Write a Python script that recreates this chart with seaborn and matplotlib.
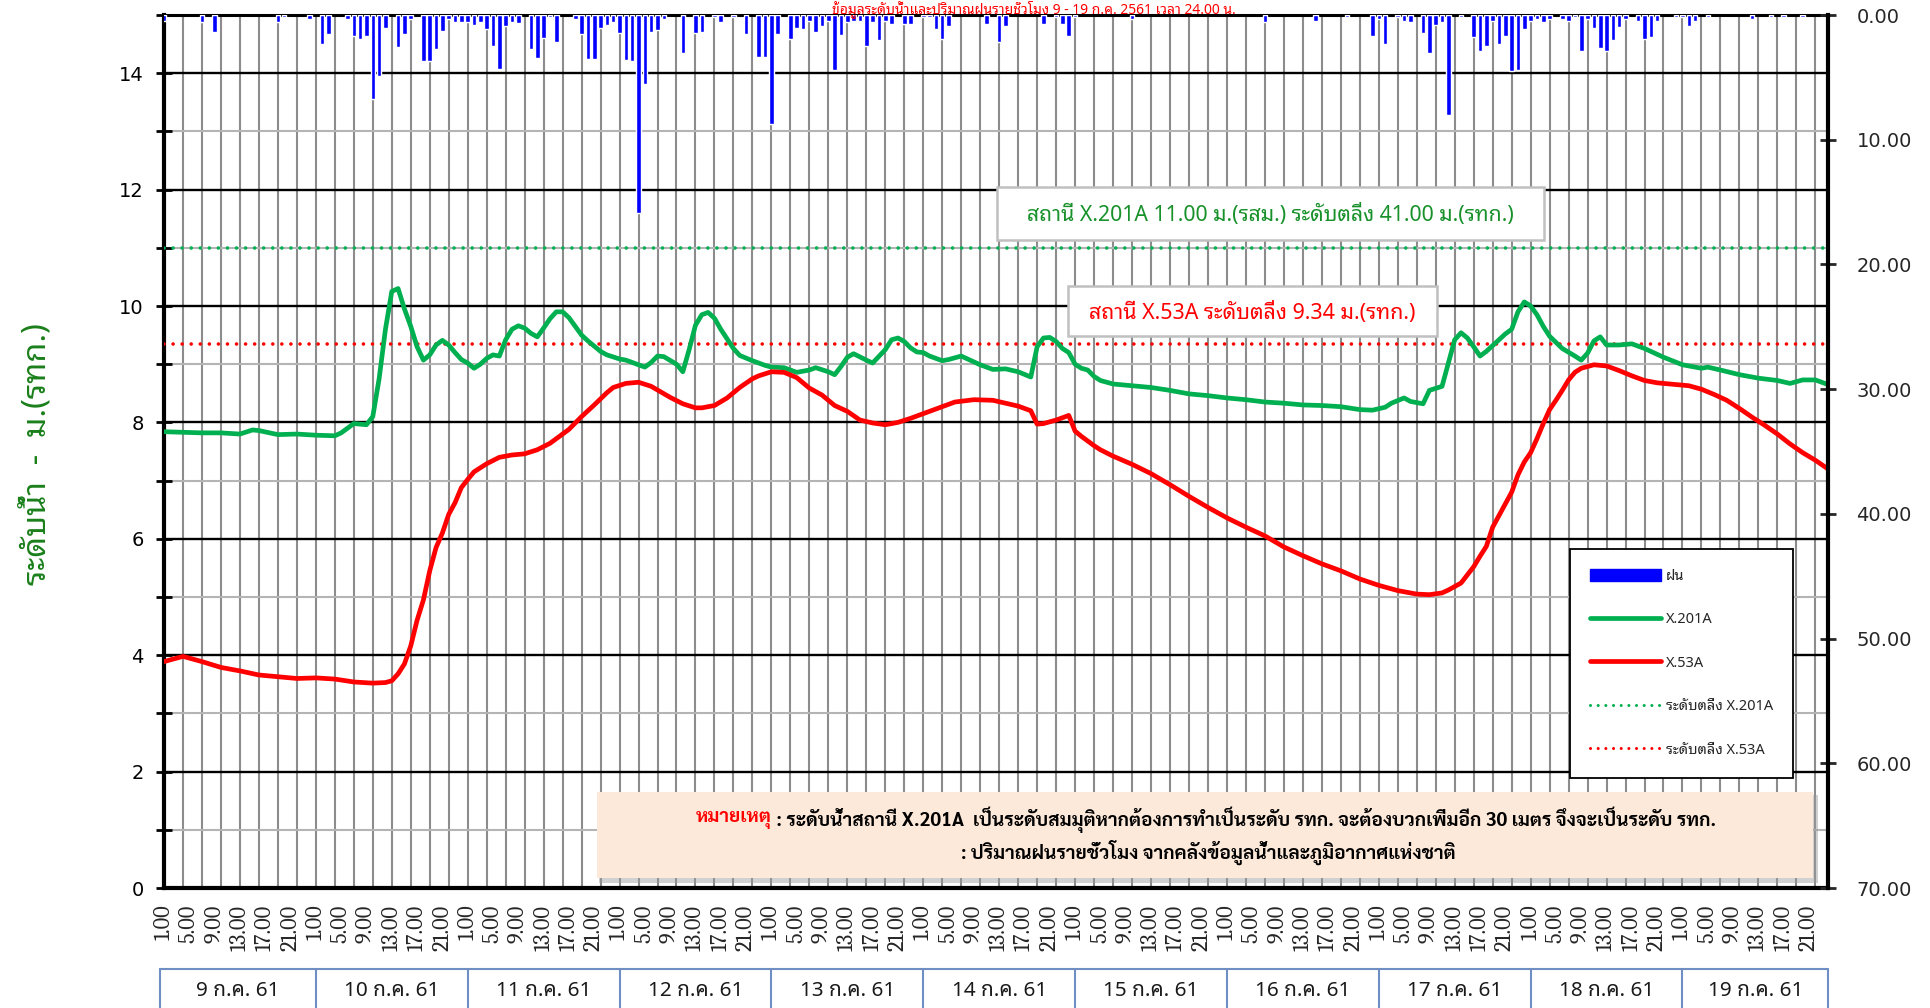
import numpy as np
import matplotlib
matplotlib.use("Agg")
import matplotlib.pyplot as plt
import seaborn as sns
from matplotlib import font_manager
from matplotlib.patches import Rectangle, Patch
from matplotlib.lines import Line2D
from matplotlib.ticker import MultipleLocator, FixedLocator, FormatStrFormatter
from matplotlib.transforms import blended_transform_factory

# ---------------- data ----------------
day_labels = ["9 ก.ค. 61", "10 ก.ค. 61", "11 ก.ค. 61", "12 ก.ค. 61", "13 ก.ค. 61", "14 ก.ค. 61",
              "15 ก.ค. 61", "16 ก.ค. 61", "17 ก.ค. 61", "18 ก.ค. 61", "19 ก.ค. 61"]
hour_labels = ["1.00", "5.00", "9.00", "13.00", "17.00", "21.00"]

x201a_hours = [0, 3, 6, 9, 12, 14, 15, 18, 21, 24, 27, 28, 30, 32, 33, 34, 35, 36, 37, 38, 39, 40, 41, 42, 43,
               44, 45, 46, 47, 48, 49, 50, 51, 52, 53, 54, 55, 56, 57, 58, 59, 60, 61, 62, 63, 64, 66, 67, 69,
               70, 72, 73, 75, 76, 77, 78, 79, 81, 82, 83, 84, 85, 86, 87, 88, 90, 91, 93, 95, 96, 98, 99, 100,
               102, 103, 105, 106, 107, 108, 109, 111, 112, 114, 115, 116, 117, 118, 119, 120, 121, 123, 124,
               126, 129, 131, 133, 135, 137, 138, 139, 140, 141, 142, 143, 144, 145, 146, 147, 148, 150, 153,
               156, 159, 162, 165, 168, 171, 174, 177, 180, 183, 186, 189, 191, 193, 194, 196, 197, 199, 200,
               202, 203, 204, 205, 206, 207, 208, 209, 210, 211, 212, 213, 214, 215, 216, 217, 218, 219, 221,
               223, 224, 225, 226, 227, 228, 230, 232, 234, 237, 240, 243, 244, 246, 249, 252, 255, 257, 259,
               261, 263]
x201a_level = [7.84, 7.83, 7.82, 7.82, 7.80, 7.87, 7.86, 7.79, 7.80, 7.78, 7.77, 7.82, 7.98, 7.96, 8.10, 8.75,
               9.60, 10.25, 10.30, 9.95, 9.65, 9.30, 9.07, 9.16, 9.33, 9.41, 9.33, 9.20, 9.08, 9.02, 8.93, 9.00,
               9.10, 9.16, 9.14, 9.42, 9.60, 9.66, 9.62, 9.53, 9.47, 9.62, 9.78, 9.90, 9.90, 9.80, 9.50, 9.40,
               9.22, 9.16, 9.09, 9.07, 8.99, 8.95, 9.03, 9.14, 9.13, 9.00, 8.87, 9.25, 9.67, 9.85, 9.89, 9.79,
               9.60, 9.27, 9.15, 9.06, 8.98, 8.95, 8.94, 8.90, 8.86, 8.90, 8.94, 8.87, 8.82, 8.96, 9.12, 9.18,
               9.07, 9.02, 9.25, 9.42, 9.45, 9.39, 9.28, 9.21, 9.20, 9.14, 9.06, 9.08, 9.14, 8.99, 8.91, 8.92,
               8.87, 8.78, 9.30, 9.45, 9.46, 9.39, 9.27, 9.20, 9.00, 8.93, 8.90, 8.79, 8.72, 8.66, 8.63, 8.60,
               8.55, 8.49, 8.46, 8.42, 8.39, 8.35, 8.33, 8.30, 8.29, 8.27, 8.22, 8.21, 8.26, 8.33, 8.42, 8.36,
               8.32, 8.55, 8.62, 9.02, 9.42, 9.54, 9.45, 9.30, 9.14, 9.22, 9.32, 9.42, 9.52, 9.60, 9.90, 10.07,
               10.00, 9.85, 9.65, 9.48, 9.27, 9.14, 9.07, 9.19, 9.40, 9.47, 9.33, 9.33, 9.35, 9.27, 9.12, 8.99,
               8.93, 8.95, 8.90, 8.82, 8.76, 8.72, 8.67, 8.73, 8.73, 8.65]

x53a_hours = [0, 3, 6, 9, 12, 15, 18, 21, 24, 27, 30, 33, 35, 36, 37, 38, 39, 40, 41, 42, 43, 44, 45, 46, 47,
              48, 49, 51, 53, 55, 57, 59, 61, 63, 64, 66, 68, 70, 71, 73, 75, 77, 80, 82, 84, 85, 87, 89, 91,
              93, 94, 96, 98, 100, 102, 104, 106, 108, 110, 112, 114, 116, 118, 120, 123, 125, 128, 131, 133,
              135, 137, 138, 139, 141, 143, 144, 145, 147, 148, 150, 153, 156, 159, 162, 165, 168, 171, 174,
              177, 180, 183, 186, 189, 192, 195, 198, 200, 202, 203, 205, 206, 207, 208, 209, 210, 211, 212,
              213, 214, 215, 216, 217, 218, 219, 220, 221, 222, 223, 224, 226, 228, 230, 232, 234, 236, 238,
              241, 243, 245, 247, 249, 251, 253, 255, 257, 259, 261, 263]
x53a_level = [3.89, 3.98, 3.89, 3.79, 3.73, 3.66, 3.63, 3.60, 3.61, 3.59, 3.54, 3.52, 3.53, 3.56, 3.68, 3.85,
              4.16, 4.60, 4.95, 5.45, 5.85, 6.10, 6.42, 6.62, 6.88, 7.02, 7.15, 7.29, 7.40, 7.44, 7.46, 7.53,
              7.64, 7.80, 7.88, 8.10, 8.30, 8.51, 8.60, 8.67, 8.69, 8.62, 8.43, 8.32, 8.25, 8.25, 8.29, 8.42,
              8.60, 8.75, 8.80, 8.87, 8.86, 8.77, 8.59, 8.47, 8.29, 8.19, 8.04, 7.99, 7.96, 8.00, 8.07, 8.15,
              8.27, 8.35, 8.39, 8.38, 8.33, 8.28, 8.20, 7.97, 7.98, 8.04, 8.12, 7.85, 7.76, 7.60, 7.53, 7.42,
              7.28, 7.12, 6.93, 6.73, 6.54, 6.36, 6.20, 6.05, 5.86, 5.71, 5.57, 5.45, 5.31, 5.20, 5.11, 5.05,
              5.04, 5.07, 5.12, 5.24, 5.38, 5.52, 5.70, 5.87, 6.20, 6.40, 6.60, 6.80, 7.10, 7.32, 7.48, 7.72,
              7.98, 8.22, 8.38, 8.55, 8.73, 8.86, 8.93, 8.99, 8.97, 8.89, 8.80, 8.72, 8.68, 8.66, 8.63, 8.57,
              8.48, 8.38, 8.24, 8.09, 7.95, 7.80, 7.63, 7.48, 7.35, 7.20]

rain_hours = [0, 6, 8, 18, 19, 23, 25, 26, 29, 30, 31, 32, 33, 34, 35, 37, 38, 39, 41, 42, 43, 44, 45, 46, 47,
              48, 49, 50, 51, 52, 53, 54, 55, 56, 58, 59, 60, 61, 62, 65, 66, 67, 68, 69, 70, 71, 72, 73, 74,
              75, 76, 77, 78, 79, 82, 84, 85, 87, 88, 90, 92, 94, 95, 96, 97, 99, 100,
              101, 102, 103, 104, 105, 106, 107, 108, 109, 110, 111, 112, 113, 114, 115, 117, 118, 120, 121,
              122, 123, 124, 130, 132, 133, 139, 141, 142, 143, 144, 153, 174, 182, 187, 191, 192, 193, 195,
              196, 197, 199, 200, 201, 202, 203, 205, 207, 208, 209, 210, 211, 212, 213, 214, 215, 216, 217,
              218, 219, 221, 222, 223, 224, 225, 226, 227, 228, 229, 230, 231, 233, 234, 235, 236, 239, 240,
              241, 242, 244, 251, 254, 256, 259]
rain_mm = [0.45, 0.56, 1.34, 0.56, 0.2, 0.3, 2.3, 1.5, 0.35, 1.66, 1.95, 1.71, 6.76, 4.9, 1.07, 2.6, 1.55, 0.32,
           3.7, 3.7, 2.7, 1.26, 0.3, 0.56, 0.56, 0.56, 0.8, 0.56, 1.12, 2.46, 4.3, 0.86, 0.56, 0.67, 2.75,
           3.48, 1.87, 0.2, 2.17, 0.32, 1.55, 3.56, 3.56, 1.07, 0.8, 0.53, 1.47, 3.6, 3.7, 15.9, 5.5, 1.4,
           1.23, 0.3, 3.05, 1.44, 1.4, 0.2, 0.6, 0.13, 1.55, 3.37, 3.37, 8.7, 1.55, 1.9, 1.07,
           1.15, 0.45, 1.34, 0.86, 0.45, 4.4, 1.58, 0.6, 0.45, 0.45, 2.46, 0.56, 1.98, 0.45, 0.7, 0.7, 0.7,
           0.2, 0.2, 1.1, 1.9, 0.86, 0.75, 2.2, 0.86, 0.75, 0.2, 0.75, 1.68, 0.2, 0.3, 0.6, 0.45, 0.2, 1.66,
           0.35, 2.3, 0.2, 0.45, 0.6, 1.42, 3.07, 0.8, 0.6, 8.0, 0.2, 1.76, 2.9, 2.5, 0.45, 2.3, 1.66, 4.5,
           4.45, 1.15, 0.45, 0.3, 0.56, 0.3, 0.35, 0.5, 0.2, 2.86, 0.3, 1.04, 2.67, 2.86, 2.03, 1.0, 0.35,
           0.5, 1.93, 1.8, 0.45, 0.2, 0.2, 0.86, 0.5, 0.2, 0.3, 0.2, 0.2, 0.2]

bank_x201a = 11.00
bank_x53a = 9.34

title_text = "ข้อมูลระดับน้ำและปริมาณฝนรายชั่วโมง 9 - 19 ก.ค. 2561 เวลา 24.00 น."
ylabel_text = "ระดับน้ำ  -  ม.(รทก.)"
box_x201a_text = "สถานี X.201A 11.00 ม.(รสม.) ระดับตลิ่ง 41.00 ม.(รทก.)"
box_x53a_text = "สถานี X.53A ระดับตลิ่ง 9.34 ม.(รทก.)"
note_head = "หมายเหตุ"
note_line1 = " : ระดับน้ำสถานี X.201A  เป็นระดับสมมุติหากต้องการทำเป็นระดับ รทก. จะต้องบวกเพิ่มอีก 30 เมตร จึงจะเป็นระดับ รทก."
note_line2 = ": ปริมาณฝนรายชั่วโมง จากคลังข้อมูลน้ำและภูมิอากาศแห่งชาติ"
legend_labels = ["ฝน", "X.201A", "X.53A", "ระดับตลิ่ง X.201A", "ระดับตลิ่ง X.53A"]

# ---------------- style ----------------
sns.set_style("white")
avail = {f.name for f in font_manager.fontManager.ttflist}


def pick(names, default="DejaVu Sans"):
    for n in names:
        if n in avail:
            return n
    return default


THAI = pick(["Noto Sans Thai Looped", "Noto Sans Thai", "IBM Plex Sans Thai Looped", "Sarabun", "Anuphan"])
THAI_NOTE = pick(["Sarabun", "Noto Sans Thai Looped", "Noto Sans Thai", "Anuphan"])
SERIF = pick(["Caladea", "DejaVu Serif"])
plt.rcParams["font.family"] = ["DejaVu Sans"]
TH = [THAI, "DejaVu Sans"]
THN = [THAI_NOTE, "DejaVu Sans"]

GREEN = "#00b050"
RED = "#ff0000"
BLUE = "#0000ff"

W, H = 1931, 1008
L, R, T, B = 164, 1828, 15, 888


def fx(px):
    return px / W


def fy(py):
    return 1 - py / H


fig = plt.figure(figsize=(W / 100, H / 100), dpi=100)
fig.patch.set_facecolor("white")
ax = fig.add_axes([fx(L), fy(B), (R - L) / W, (B - T) / H])
ax2 = ax.twinx()
ax.set_axisbelow(True)

# lines
sns.lineplot(x=x201a_hours, y=x201a_level, ax=ax, color=GREEN, linewidth=3.4, sort=False,
             solid_joinstyle="round", solid_capstyle="round", zorder=4)
sns.lineplot(x=x53a_hours, y=x53a_level, ax=ax, color=RED, linewidth=3.4, sort=False,
             solid_joinstyle="round", solid_capstyle="round", zorder=4)
dot = (0, (0.01, 2.5))
ax.axhline(bank_x201a, color=GREEN, lw=2.6, linestyle=dot, dash_capstyle="round", zorder=3)
ax.axhline(bank_x53a, color=RED, lw=2.6, linestyle=dot, dash_capstyle="round", zorder=3)

# rain bars on inverted right axis
ax2.bar(rain_hours, rain_mm, width=0.72, color=BLUE, zorder=3)
ax2.set_ylim(70, 0)

ax.set_xlim(0, 263)
ax.set_ylim(0, 15)
ax.set_xlabel("")
ax.set_ylabel("")

# y axis
ax.yaxis.set_major_locator(MultipleLocator(2))
ax.yaxis.set_minor_locator(MultipleLocator(1))
ax.tick_params(axis="y", which="both", direction="inout", length=11, width=2, labelsize=14, pad=9,
               colors="black")
ax.grid(which="major", axis="y", color="black", lw=1.7)
ax.grid(which="minor", axis="y", color="#b4b4b4", lw=1.5)

# x axis: ticks / grid every 3 h, labels every 4 h
label_pos = [d * 24 + int(h.split(".")[0]) - 1 for d in range(len(day_labels)) for h in hour_labels]
ax.xaxis.remove_overlapping_locs = False
ax.xaxis.set_major_locator(FixedLocator(np.arange(0, 263, 3)))
ax.xaxis.set_minor_locator(FixedLocator(label_pos))
ax.set_xticklabels([""] * len(np.arange(0, 263, 3)))
ax.set_xticklabels(hour_labels * len(day_labels), minor=True, rotation=90, fontsize=16,
                   fontfamily=SERIF, va="top", ha="center")
ax.tick_params(axis="x", which="major", direction="inout", length=11, width=1.5)
ax.tick_params(axis="x", which="minor", length=0, pad=12)
ax.grid(which="major", axis="x", color="#8c8c8c", lw=1.5)

for s in ["left", "bottom"]:
    ax.spines[s].set_linewidth(3)
    ax.spines[s].set_color("black")
ax.spines["top"].set_linewidth(2.2)
ax.spines["top"].set_color("black")
ax.spines["right"].set_visible(False)
for s in ["left", "bottom", "top"]:
    ax2.spines[s].set_visible(False)
ax2.spines["right"].set_linewidth(3)
ax2.spines["right"].set_color("black")

ax2.set_yticks(np.arange(0, 71, 10))
ax2.yaxis.set_major_formatter(FormatStrFormatter("%.2f"))
ax2.tick_params(axis="y", direction="inout", length=11, width=2, labelsize=14, pad=15)
ax2.set_ylabel("")
ax2.grid(False)

renderer = fig.canvas.get_renderer()


def fit_width(t, target, vertical=False):
    bb = t.get_window_extent(renderer)
    w = bb.height if vertical else bb.width
    t.set_fontsize(t.get_fontsize() * target / w)


# title (cut off at top in the source)
t_title = fig.text(fx(1034), 1.0, title_text, color=RED, ha="center", va="top", fontsize=10, family=TH)

# y label
t_yl = fig.text(fx(38), fy(454), ylabel_text, rotation=90, ha="center", va="center", color="#1a7f1a",
                fontsize=16, family=TH)
fit_width(t_yl, 262, vertical=True)

# annotation boxes
for (x0, y0, x1, y1, txt, col, tw) in [(997, 187, 1544, 240, box_x201a_text, "#18912a", 488),
                                        (1068, 286, 1437, 336, box_x53a_text, RED, 326)]:
    fig.add_artist(Rectangle((fx(x0), fy(y1)), (x1 - x0) / W, (y1 - y0) / H, transform=fig.transFigure,
                             facecolor="white", edgecolor="#c0c0c0", lw=1.8, zorder=5))
    t = fig.text(fx((x0 + x1) / 2), fy((y0 + y1) / 2 + 2), txt, color=col, ha="center", va="center",
                 fontsize=14, family=TH, zorder=6)
    fit_width(t, tw)

# note box with shadow
nx0, ny0, nx1, ny1 = 597, 792, 1813, 878
fig.add_artist(Rectangle((fx(nx0 + 2), fy(ny1 + 5)), (nx1 - nx0 + 3) / W, (ny1 - ny0 + 2) / H,
                         transform=fig.transFigure, facecolor="#9a9a9a", edgecolor="none", alpha=0.45,
                         zorder=5))
fig.add_artist(Rectangle((fx(nx0), fy(ny1)), (nx1 - nx0) / W, (ny1 - ny0) / H, transform=fig.transFigure,
                         facecolor="#fde9d9", edgecolor="none", zorder=5))
t_h = fig.text(0, fy(820), note_head, color=RED, ha="left", va="center", fontsize=14, family=THN,
               weight="bold", zorder=6)
t_1 = fig.text(0, fy(820), note_line1, color="black", ha="left", va="center", fontsize=14, family=THN,
               weight="bold", zorder=6)
w_tot = t_h.get_window_extent(renderer).width + t_1.get_window_extent(renderer).width
scale = 1016 / w_tot
for t in (t_h, t_1):
    t.set_fontsize(14 * scale)
wh = t_h.get_window_extent(renderer).width
w1 = t_1.get_window_extent(renderer).width
start = 1206 - (wh + w1) / 2
t_h.set_x(fx(start))
t_1.set_x(fx(start + wh))
fig.text(fx(1208), fy(852), note_line2, color="black", ha="center", va="center", fontsize=14 * scale,
         family=THN, weight="bold", zorder=6)

# day boxes under the axis
trans = blended_transform_factory(ax.transData, fig.transFigure)
BOXC = "#6f8fc4"
bounds = [-0.6] + [24 * k for k in range(1, len(day_labels))] + [263]
fig.add_artist(Line2D([bounds[0], bounds[-1]], [fy(969), fy(969)], transform=trans, color=BOXC, lw=1.5))
for xb in bounds:
    fig.add_artist(Line2D([xb, xb], [fy(969), 0], transform=trans, color=BOXC, lw=1.5))
day_texts = []
for k, lab in enumerate(day_labels):
    xc = (bounds[k] + bounds[k + 1]) / 2
    day_texts.append(fig.text(xc, fy(991), lab, transform=trans, ha="center", va="center", fontsize=13,
                              family=TH, color="#1a1a1a"))
bb = day_texts[1].get_window_extent(renderer).width
for t in day_texts:
    t.set_fontsize(13 * 95 / bb)

# legend
handles = [Patch(facecolor=BLUE, edgecolor=BLUE),
           Line2D([], [], color=GREEN, lw=3.4, solid_capstyle="round"),
           Line2D([], [], color=RED, lw=3.4, solid_capstyle="round"),
           Line2D([], [], color=GREEN, lw=2.2, linestyle=dot, dash_capstyle="round"),
           Line2D([], [], color=RED, lw=2.2, linestyle=dot, dash_capstyle="round")]
leg = fig.legend(handles, legend_labels, loc="upper left", bbox_to_anchor=(fx(1570), fy(549)),
                 frameon=True, fancybox=False, edgecolor="black", framealpha=1, facecolor="white",
                 prop={"family": TH, "size": 10.5}, handlelength=4.9, handleheight=0.9, labelspacing=1.95,
                 borderpad=1.35, handletextpad=0.35, borderaxespad=0)
leg.get_frame().set_linewidth(1.3)
leg.set_zorder(7)

fig.savefig("out.png", dpi=100, facecolor="white")
